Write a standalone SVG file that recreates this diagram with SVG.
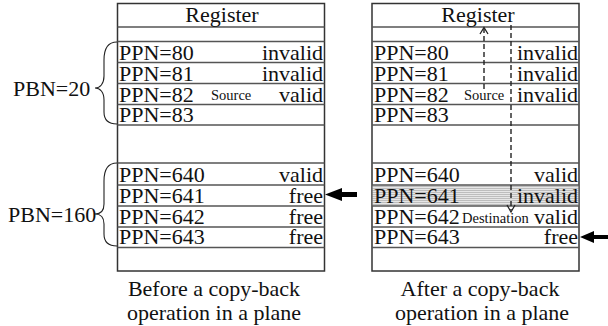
<svg xmlns="http://www.w3.org/2000/svg" width="608" height="326" viewBox="0 0 608 326">
<defs>
<style>
text{font-family:"Liberation Serif","Times New Roman",serif;fill:#111;}
.t{font-size:22px;}
.r{font-size:22px;text-anchor:end;}
.s{font-size:14.5px;}
.c{font-size:22px;text-anchor:middle;}
.box{fill:#fff;stroke:#333;stroke-width:1.5;}
.row{stroke:#555;stroke-width:1.4;fill:none;}
.brace{fill:none;stroke:#222;stroke-width:1.1;}
.dash{fill:none;stroke:#222;stroke-width:1.4;stroke-dasharray:5,3;}
.head{fill:none;stroke:#222;stroke-width:1.3;}
.arrow{fill:#000;}
</style>
<pattern id="hatch" width="4" height="2" patternUnits="userSpaceOnUse">
<rect width="4" height="2" fill="#e6e6e6"/>
<rect width="4" height="1" fill="#bdbdbd"/>
</pattern>
</defs>

<g id="before">
<rect class="box" x="117.5" y="3.5" width="207" height="267.5"/>
<g class="row">
<line x1="117.5" y1="27" x2="324.5" y2="27"/>
<line x1="117.5" y1="41.5" x2="324.5" y2="41.5"/>
<line x1="117.5" y1="62.5" x2="324.5" y2="62.5"/>
<line x1="117.5" y1="83.5" x2="324.5" y2="83.5"/>
<line x1="117.5" y1="104.5" x2="324.5" y2="104.5"/>
<line x1="117.5" y1="125" x2="324.5" y2="125"/>
<line x1="117.5" y1="163" x2="324.5" y2="163"/>
<line x1="117.5" y1="185" x2="324.5" y2="185"/>
<line x1="117.5" y1="206" x2="324.5" y2="206"/>
<line x1="117.5" y1="227" x2="324.5" y2="227"/>
<line x1="117.5" y1="247.5" x2="324.5" y2="247.5"/>
</g>
<text class="c" x="222" y="22">Register</text>
<text class="t" x="119" y="60">PPN=80</text><text class="r" x="323" y="60">invalid</text>
<text class="t" x="119" y="81">PPN=81</text><text class="r" x="323" y="81">invalid</text>
<text class="t" x="119" y="102">PPN=82</text><text class="s" x="211" y="100">Source</text><text class="r" x="323" y="102">valid</text>
<text class="t" x="119" y="122">PPN=83</text>
<text class="t" x="119" y="182">PPN=640</text><text class="r" x="323" y="182">valid</text>
<text class="t" x="119" y="203">PPN=641</text><text class="r" x="323" y="203">free</text>
<text class="t" x="119" y="224">PPN=642</text><text class="r" x="323" y="224">free</text>
<text class="t" x="119" y="244">PPN=643</text><text class="r" x="323" y="244">free</text>
<text class="c" x="214" y="296">Before a copy-back</text>
<text class="c" x="214" y="320">operation in a plane</text>
</g>

<g id="pbn20">
<path class="brace" d="M117,42 C108,42 104,48 104,60 L104,76 C104,84 100,88 95,88 C100,88 104,92 104,100 L104,112 C104,120 108,124 117,124"/>
<text class="t" x="13" y="96">PBN=20</text>
</g>

<g id="pbn160">
<path class="brace" d="M117,163 C108,163 104,169 104,181 L104,204 C104,211 100,214 95,214 C100,214 104,217 104,224 L104,234 C104,242 108,246 117,246"/>
<text class="t" x="8" y="222">PBN=160</text>
</g>

<g id="after">
<rect class="box" x="372" y="3.5" width="207" height="267.5"/>
<rect x="372.7" y="185" width="205.6" height="21" fill="url(#hatch)"/>
<g class="row">
<line x1="372" y1="27" x2="579" y2="27"/>
<line x1="372" y1="41.5" x2="579" y2="41.5"/>
<line x1="372" y1="62.5" x2="579" y2="62.5"/>
<line x1="372" y1="83.5" x2="579" y2="83.5"/>
<line x1="372" y1="104.5" x2="579" y2="104.5"/>
<line x1="372" y1="125" x2="579" y2="125"/>
<line x1="372" y1="163" x2="579" y2="163"/>
<line x1="372" y1="185" x2="579" y2="185"/>
<line x1="372" y1="206" x2="579" y2="206"/>
<line x1="372" y1="227" x2="579" y2="227"/>
<line x1="372" y1="247.5" x2="579" y2="247.5"/>
</g>
<text class="c" x="478" y="22">Register</text>
<text class="t" x="374" y="60">PPN=80</text><text class="r" x="578" y="60">invalid</text>
<text class="t" x="374" y="81">PPN=81</text><text class="r" x="578" y="81">invalid</text>
<text class="t" x="374" y="102">PPN=82</text><text class="s" x="464" y="100">Source</text><text class="r" x="578" y="102">invalid</text>
<text class="t" x="374" y="122">PPN=83</text>
<text class="t" x="374" y="182">PPN=640</text><text class="r" x="578" y="182">valid</text>
<text class="t" x="374" y="203">PPN=641</text><text class="r" x="578" y="203">invalid</text>
<text class="t" x="374" y="224">PPN=642</text><text class="s" x="462" y="223">Destination</text><text class="r" x="578" y="224">valid</text>
<text class="t" x="374" y="244">PPN=643</text><text class="r" x="578" y="244">free</text>
<text class="c" x="480" y="296">After a copy-back</text>
<text class="c" x="482" y="320">operation in a plane</text>
</g>

<g id="connectors">
<line class="dash" x1="484" y1="89" x2="484" y2="29"/>
<polyline class="head" points="480,34 484,27.5 488,34"/>
<line class="dash" x1="511" y1="25" x2="511" y2="210"/>
<polyline class="head" points="507,205 511,212 515,205"/>
<path class="arrow" d="M325,194.5 L342,188 L342,192 L357,192 L357,197 L342,197 L342,201 Z"/>
<path class="arrow" d="M580,237 L594,231 L594,235 L608,235 L608,239 L594,239 L594,243 Z"/>
</g>
</svg>
